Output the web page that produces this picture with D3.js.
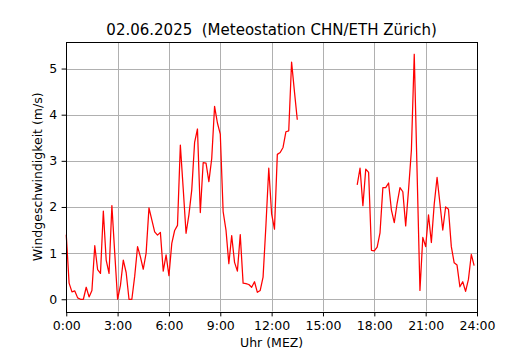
<!DOCTYPE html>
<html>
<head>
<meta charset="utf-8">
<script src="https://cdn.jsdelivr.net/npm/d3@7/dist/d3.min.js"></script>
<style>
body { margin: 0; background: #fff; }
text { font-family: "DejaVu Sans", sans-serif; }
</style>
</head>
<body>
<script>
// Daten (10-Minuten-Werte, null = keine Messung)
var titleText = "02.06.2025  (Meteostation CHN/ETH Zürich)";
var xLabel = "Uhr (MEZ)";
var yLabel = "Windgeschwindigkeit (m/s)";

var stepMinutes = 10;
var xTickHours = [0, 3, 6, 9, 12, 15, 18, 21, 24];
var xTickLabels = ["0:00", "3:00", "6:00", "9:00", "12:00", "15:00", "18:00", "21:00", "24:00"];
var yTicks = [0, 1, 2, 3, 4, 5];
var yTickLabels = ["0", "1", "2", "3", "4", "5"];

var windSpeed = [
  1.4, 0.35, 0.16, 0.18, 0.03, 0, 0, 0.26, 0.05, 0.19, 1.16, 0.64,
  0.56, 1.91, 0.85, 0.56, 2.03, 1.0, 0, 0.3, 0.85, 0.58, 0, 0,
  0.5, 1.14, 0.92, 0.65, 1.0, 1.98, 1.72, 1.46, 1.39, 1.45, 0.61, 0.96,
  0.51, 1.21, 1.49, 1.6, 3.34, 2.4, 1.43, 1.83, 2.37, 3.4, 3.69, 1.88,
  2.96, 2.95, 2.55, 3.05, 4.18, 3.82, 3.58, 1.9, 1.5, 0.77, 1.38, 0.8,
  0.61, 1.4, 0.35, 0.34, 0.32, 0.26, 0.38, 0.15, 0.19, 0.48, 1.6, 2.84,
  1.85, 1.52, 3.14, 3.18, 3.29, 3.63, 3.65, 5.14, 4.5, 3.89, null, null,
  null, null, null, null, null, null, null, null, null, null, null, null,
  null, null, null, null, null, null, 2.48, 2.84, 2.03, 2.82, 2.75, 1.06,
  1.05, 1.13, 1.44, 2.42, 2.42, 2.52, 1.93, 1.66, 2.08, 2.42, 2.33, 1.59,
  2.37, 3.23, 5.31, 2.75, 0.19, 1.34, 1.14, 1.83, 1.23, 2.06, 2.64, 2.08,
  1.5, 2.0, 1.95, 1.14, 0.79, 0.74, 0.27, 0.38, 0.17, 0.43, 0.97, 0.73
];

// Layout wie bei matplotlib (left .125, right .9, bottom .11, top .88)
var width = 530, height = 350;
var plotLeft = 66.25, plotRight = 477, plotTop = 42, plotBottom = 311.5;
var fontSize = 12.5;

var svg = d3.select("body").append("svg").attr("width", width).attr("height", height);

var points = windSpeed.map(function(v, i) { return {h: i * stepMinutes / 60, v: v}; });

var x = d3.scaleLinear().domain([0, 24]).range([plotLeft, plotRight]);

var ext = d3.extent(windSpeed.filter(function(v) { return v != null; }));
var pad = (ext[1] - ext[0]) * 0.05;
var y = d3.scaleLinear().domain([ext[0] - pad, ext[1] + pad]).range([plotBottom, plotTop]);

// Gitter
var grid = svg.append("g").attr("stroke", "#b0b0b0").attr("stroke-width", 1);
grid.selectAll("line.gx").data(xTickHours).enter().append("line")
  .attr("x1", function(d) { return Math.round(x(d)) + 0.5; }).attr("x2", function(d) { return Math.round(x(d)) + 0.5; })
  .attr("y1", plotTop).attr("y2", plotBottom);
grid.selectAll("line.gy").data(yTicks).enter().append("line")
  .attr("y1", function(d) { return Math.round(y(d)) + 0.5; }).attr("y2", function(d) { return Math.round(y(d)) + 0.5; })
  .attr("x1", plotLeft).attr("x2", plotRight);

// Linie
var line = d3.line()
  .defined(function(d) { return d.v != null; })
  .x(function(d) { return x(d.h); })
  .y(function(d) { return y(d.v); });

svg.append("path").datum(points)
  .attr("fill", "none").attr("stroke", "#ff0000").attr("stroke-width", 1.25)
  .attr("stroke-linejoin", "round")
  .attr("d", line);

// Achsen
var xAxis = d3.axisBottom(x).tickValues(xTickHours)
  .tickFormat(function(d, i) { return xTickLabels[i]; })
  .tickSize(4.4).tickPadding(5).tickSizeOuter(0);
var yAxis = d3.axisLeft(y).tickValues(yTicks)
  .tickFormat(function(d, i) { return yTickLabels[i]; })
  .tickSize(4.4).tickPadding(4.4).tickSizeOuter(0);

var gx = svg.append("g").attr("transform", "translate(0," + Math.round(plotBottom) + ")").call(xAxis);
var gy = svg.append("g").attr("transform", "translate(" + Math.round(plotLeft) + ",0)").call(yAxis);

[gx, gy].forEach(function(g) {
  g.select(".domain").remove();
  g.attr("font-family", null).attr("font-size", null);
  g.selectAll("text").attr("font-size", fontSize).attr("fill", "#000");
  g.selectAll("line").attr("stroke", "#000");
});

// Rahmen
svg.append("rect")
  .attr("x", Math.round(plotLeft) + 0.5).attr("y", plotTop + 0.5)
  .attr("width", Math.round(plotRight) - Math.round(plotLeft)).attr("height", Math.round(plotBottom) - plotTop)
  .attr("fill", "none").attr("stroke", "#000").attr("stroke-width", 1);

// Beschriftungen
svg.append("text")
  .attr("x", (plotLeft + plotRight) / 2).attr("y", 34.5)
  .attr("text-anchor", "middle").attr("font-size", 15)
  .attr("xml:space", "preserve").style("white-space", "pre")
  .text(titleText);

svg.append("text")
  .attr("x", (plotLeft + plotRight) / 2).attr("y", 347)
  .attr("text-anchor", "middle").attr("font-size", fontSize)
  .text(xLabel);

svg.append("text")
  .attr("transform", "translate(41.5," + (plotTop + plotBottom) / 2 + ") rotate(-90)")
  .attr("text-anchor", "middle").attr("font-size", fontSize)
  .text(yLabel);
</script>
</body>
</html>
